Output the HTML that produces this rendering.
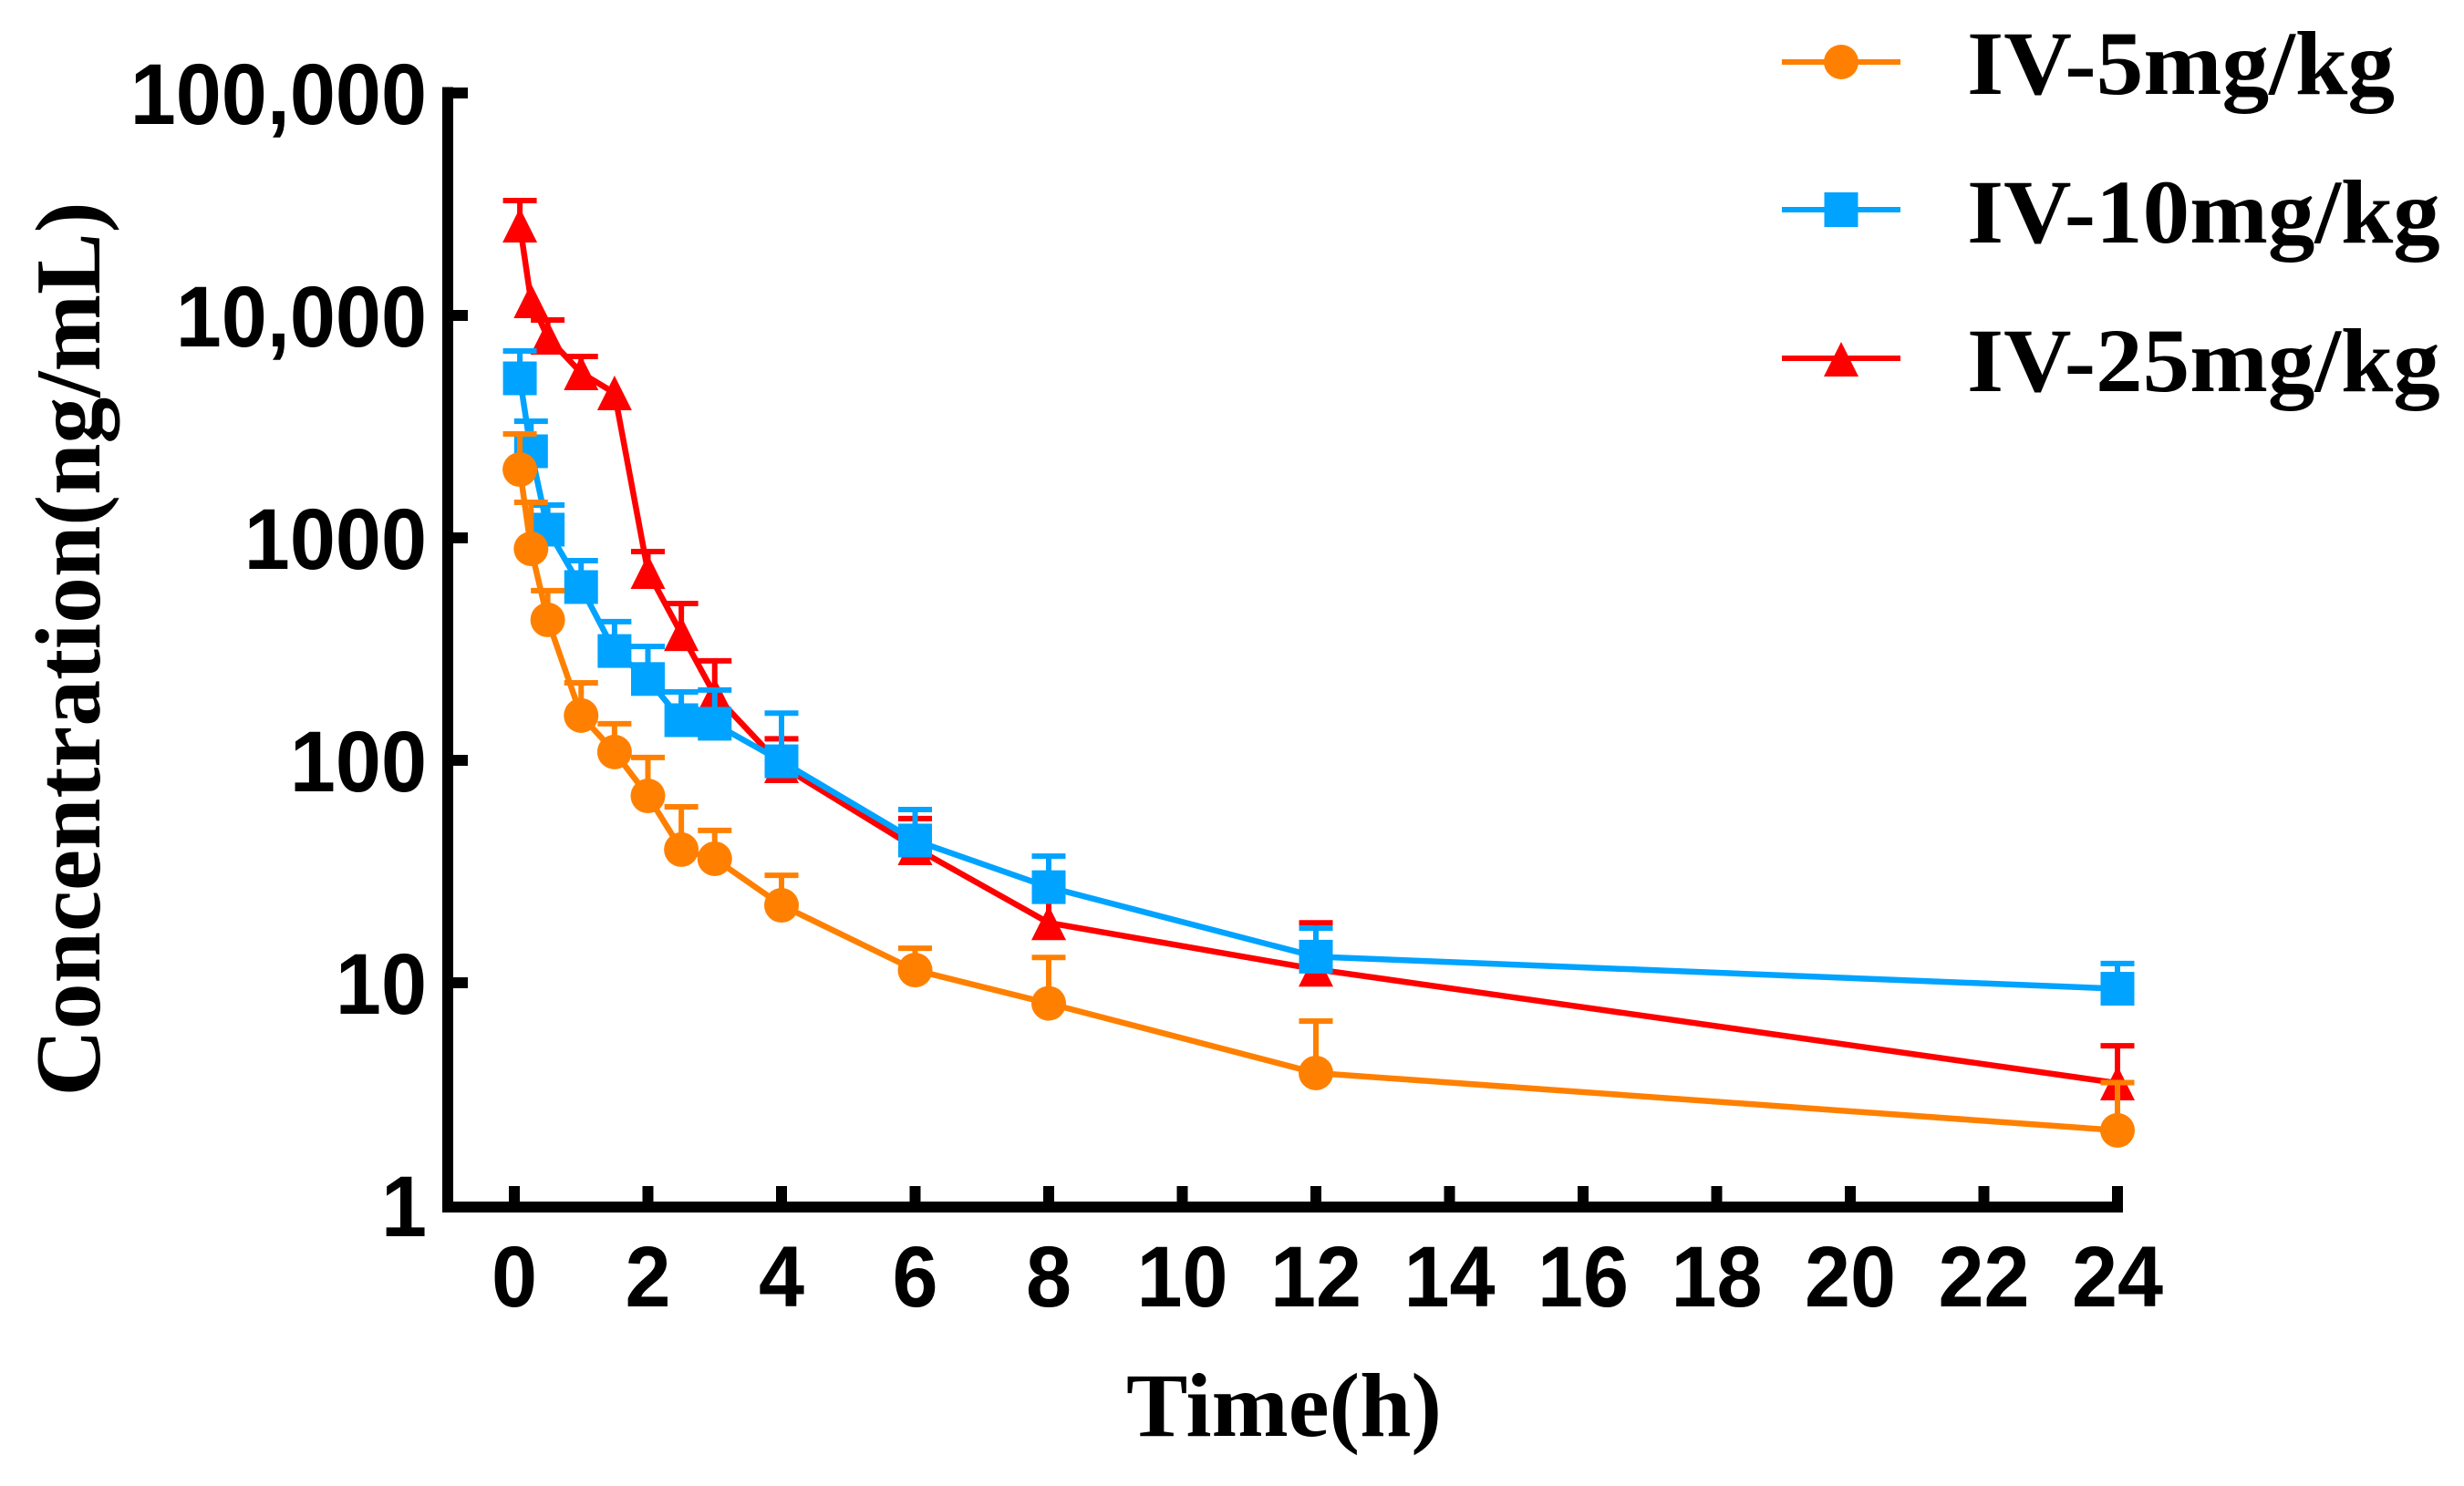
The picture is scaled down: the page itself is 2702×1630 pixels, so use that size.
<!DOCTYPE html>
<html lang="en">
<head>
<meta charset="utf-8">
<title>Concentration vs Time</title>
<style>
html,body{margin:0;padding:0;background:#fff;}
svg{display:block;}
.tick{font-family:"Liberation Sans",Arial,sans-serif;font-weight:700;font-size:90px;fill:#000;}
.serif{font-family:"Liberation Serif","Times New Roman",serif;font-weight:700;fill:#000;}
</style>
</head>
<body>
<svg id="chart" xmlns="http://www.w3.org/2000/svg" width="2702" height="1630" viewBox="0 0 2702 1630">
  <rect x="0" y="0" width="2702" height="1630" fill="#fff"/>
  <g id="series-layer"></g>
  <g id="axis-layer"></g>
  <text class="serif" font-size="101.5" text-anchor="middle" transform="translate(109,712) rotate(-90)">Concentration(ng/mL)</text>
  <text class="serif" font-size="100" text-anchor="start" transform="translate(1235,1575) scale(1.01,1)">Time(h)</text>

  <g>
    <g>
      <line x1="1954" y1="68" x2="2084" y2="68" stroke="#FF8000" stroke-width="6"/>
      <circle cx="2019" cy="68" r="19" fill="#FF8000"/>
      <text class="serif" font-size="100" transform="translate(2157,103) scale(1.034,1)">IV-5mg/kg</text>
    </g>
    <g>
      <line x1="1954" y1="230" x2="2084" y2="230" stroke="#00A3FF" stroke-width="6"/>
      <rect x="2000.5" y="211" width="37" height="38" fill="#00A3FF"/>
      <text class="serif" font-size="100" transform="translate(2157,266) scale(1.03,1)">IV-10mg/kg</text>
    </g>
    <g>
      <line x1="1954" y1="393" x2="2084" y2="393" stroke="#FF0000" stroke-width="6"/>
      <polygon points="2019,375 2038,413 2000,413" fill="#FF0000"/>
      <text class="serif" font-size="100" transform="translate(2157,429) scale(1.03,1)">IV-25mg/kg</text>
    </g>
  </g>
</svg>
<script>
// Chart data (concentration in ng/mL, time in hours)
const times = [0.083, 0.25, 0.5, 1, 1.5, 2, 2.5, 3, 4, 6, 8, 12, 24];
const mean5mg = [2029, 893, 428, 159, 109, 69.2, 39.7, 36.1, 22.3, 11.4, 8.08, 3.93, 2.17];
const upper5mg = [2932, 1445, 579, 223, 146, 103, 61.8, 48.4, 30.4, 14.3, 13.0, 6.73, 3.56];
const mean10mg = [5214, 2451, 1089, 601, 310, 232, 151.5, 146, 99, 43.6, 26.9, 13.1, 9.4];
const upper10mg = [6922, 3346, 1404, 790, 420, 325, 203, 207, 163, 60.1, 37.1, 17.6, 12.2];
const mean25mg = [25450, 11630, 7973, 5519, 4482, 705, 371, 197, 94.5, 40.4, 18.6, 11.5, 3.54];
const upper25mg = [32840, null, 9538, 6539, null, 868, 507, 280, 125, 54.7, 24, 18.6, 5.21];
const xTickValues = [0, 2, 4, 6, 8, 10, 12, 14, 16, 18, 20, 22, 24];
const xTickLabels = ['0', '2', '4', '6', '8', '10', '12', '14', '16', '18', '20', '22', '24'];
const yTickValues = [1, 10, 100, 1000, 10000, 100000];
const yTickLabels = ['1', '10', '100', '1000', '10,000', '100,000'];

const NS = 'http://www.w3.org/2000/svg';
const AXIS_TOP = 1318;
const AXIS_THICK = 12;
function xScale(t) { return 564 + t * 73.25; }
function yScale(v) { return 1322 - 244 * Math.log10(v); }
function make(tag, attrs) {
  const el = document.createElementNS(NS, tag);
  for (const k in attrs) el.setAttribute(k, attrs[k]);
  return el;
}

const axisLayer = document.getElementById('axis-layer');
const seriesLayer = document.getElementById('series-layer');

const yAxisLine = make('rect', {x: 485, y: yScale(100000) - 6.5, width: 12, height: AXIS_TOP + AXIS_THICK - (yScale(100000) - 6.5), fill: '#000'});


axisLayer.appendChild(yAxisLine);

const xAxisLine = make('rect', {x: 485, y: AXIS_TOP, width: xScale(24) + 6 - 485, height: AXIS_THICK, fill: '#000'});


axisLayer.appendChild(xAxisLine);

yTickValues.forEach(function (v, i) {
  const y = yScale(v);
  const tick = make('rect', {x: 497, y: Math.max(y - 6, 0) === y - 6 && y > AXIS_TOP ? AXIS_TOP : y - 6, width: 16, height: AXIS_THICK, fill: '#000'});
  
  
  axisLayer.appendChild(tick);
  const label = make('text', {transform: 'translate(468,' + (y + 34) + ') scale(1,1.05)', 'text-anchor': 'end', 'class': 'tick'});
  
  
  label.textContent = yTickLabels[i];
  axisLayer.appendChild(label);
});

xTickValues.forEach(function (t, i) {
  const x = xScale(t);
  const tick = make('rect', {x: x - 6, y: AXIS_TOP - 17, width: 12, height: 18, fill: '#000'});
  
  
  axisLayer.appendChild(tick);
  const label = make('text', {transform: 'translate(' + x + ',1433) scale(1,1.05)', 'text-anchor': 'middle', 'class': 'tick'});
  
  
  label.textContent = xTickLabels[i];
  axisLayer.appendChild(label);
});

function drawSeries(group, means, uppers, color, shape) {
  const pts = times.map(function (t, i) { return xScale(t) + ',' + yScale(means[i]); }).join(' ');
  const line = make('polyline', {points: pts, fill: 'none', stroke: color, 'stroke-width': 6.5, 'stroke-linejoin': 'round'});
  
  
  group.appendChild(line);

  times.forEach(function (t, i) {
    if (uppers[i] === null) return;
    const x = xScale(t), y0 = yScale(means[i]), y1 = yScale(uppers[i]);
    const stem = make('line', {x1: x, y1: y0, x2: x, y2: y1, stroke: color, 'stroke-width': 6});
    
    
    group.appendChild(stem);
    const cap = make('line', {x1: x - 18.5, y1: y1, x2: x + 18.5, y2: y1, stroke: color, 'stroke-width': 6});
    
    
    group.appendChild(cap);
  });

  times.forEach(function (t, i) {
    const x = xScale(t), y = yScale(means[i]);
    let m;
    if (shape === 'circle') {
      m = make('circle', {cx: x, cy: y, r: 19, fill: color});
    } else if (shape === 'square') {
      m = make('rect', {x: x - 18.5, y: y - 18.5, width: 37, height: 37, fill: color});
    } else {
      m = make('polygon', {points: x + ',' + (y - 19) + ' ' + (x + 19) + ',' + (y + 19) + ' ' + (x - 19) + ',' + (y + 19), fill: color});
    }
    
    
    group.appendChild(m);
  });
}

const group25 = make('g', {});


seriesLayer.appendChild(group25);
drawSeries(group25, mean25mg, upper25mg, '#FF0000', 'triangle');

const group10 = make('g', {});


seriesLayer.appendChild(group10);
drawSeries(group10, mean10mg, upper10mg, '#00A3FF', 'square');

const group5 = make('g', {});


seriesLayer.appendChild(group5);
drawSeries(group5, mean5mg, upper5mg, '#FF8000', 'circle');
</script>
</body>
</html>
